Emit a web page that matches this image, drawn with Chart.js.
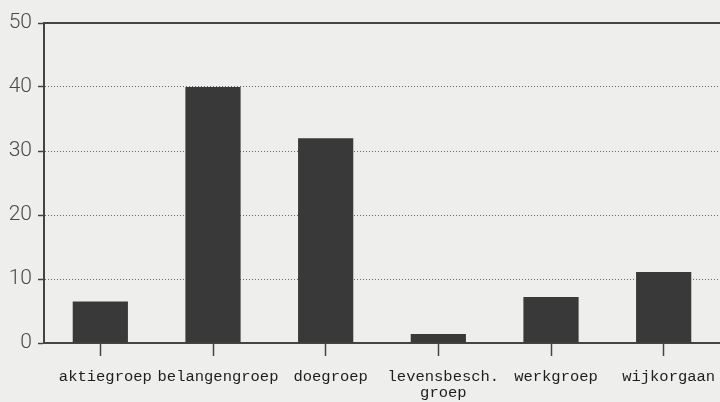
<!DOCTYPE html>
<html>
<head>
<meta charset="utf-8">
<script src="https://cdn.jsdelivr.net/npm/chart.js@4.4.1/dist/chart.umd.min.js"></script>
<style>
  html, body { margin: 0; padding: 0; background: #eeeeec; }
  #wrap { width: 720px; height: 402px; }
</style>
</head>
<body>
<div id="wrap"><canvas id="groepChart" width="720" height="402"></canvas></div>
<script>
// groups and their counts
const groepen = ['aktiegroep', 'belangengroep', 'doegroep', ['levensbesch.', 'groep'], 'werkgroep', 'wijkorgaan'];
const aantallen = [6.5, 40, 32, 1.4, 7.2, 11.1];
const yTicks = [0, 10, 20, 30, 40, 50];

const lineColor = '#444';

const ctx = document.getElementById('groepChart').getContext('2d');
const groepChart = new Chart(ctx, {
  type: 'bar',
  data: {
    labels: groepen,
    datasets: [{
      label: 'Aantal',
      data: aantallen,
      backgroundColor: '#393939',
      borderWidth: 0,
      barPercentage: 0.49,
      categoryPercentage: 1
    }]
  },
  options: {
    responsive: false,
    animation: false,
    layout: { padding: { top: 23, right: 0, bottom: 0, left: 0 } },
    scales: {
      x: {
        offset: true,
        grid: { offset: false, drawOnChartArea: false, drawTicks: true, tickLength: 13, tickColor: lineColor, tickWidth: 1.5 },
        border: { color: lineColor, width: 2 },
        ticks: {
          color: '#1e1e1e',
          padding: 13,
          labelOffset: 5,
          maxRotation: 0,
          autoSkip: false,
          font: { family: '"Liberation Mono", "DejaVu Sans Mono", monospace', size: 15.5, lineHeight: '16px' }
        },
        afterFit: function(scale) {
          scale.height = 59;
          scale.paddingLeft = 0;
          scale.paddingRight = 0;
        }
      },
      xTop: {
        type: 'category',
        position: 'top',
        labels: groepen,
        grid: { display: false },
        ticks: { display: false },
        border: { color: lineColor, width: 2 },
        afterFit: function(scale) { scale.height = 0; }
      },
      y: {
        min: 0,
        max: 50,
        afterBuildTicks: function(scale) { scale.ticks = yTicks.map(v => ({ value: v })); },
        grid: {
          color: function(c) {
            const v = c.tick ? c.tick.value : 0;
            return (v === 0 || v === 50) ? 'rgba(0,0,0,0)' : '#666';
          },
          lineWidth: 1,
          drawTicks: true,
          tickLength: 6,
          tickColor: lineColor,
          tickWidth: 1.5
        },
        border: { color: lineColor, width: 2, dash: [1, 2] },
        ticks: {
          color: '#4a4a4a',
          padding: 6,
          font: { family: 'Roboto, "DejaVu Sans", sans-serif', size: 21, weight: '300' }
        },
        afterFit: function(scale) { scale.width = 44; }
      }
    },
    plugins: {
      legend: { display: false },
      tooltip: { enabled: false }
    }
  }
});
</script>
</body>
</html>
